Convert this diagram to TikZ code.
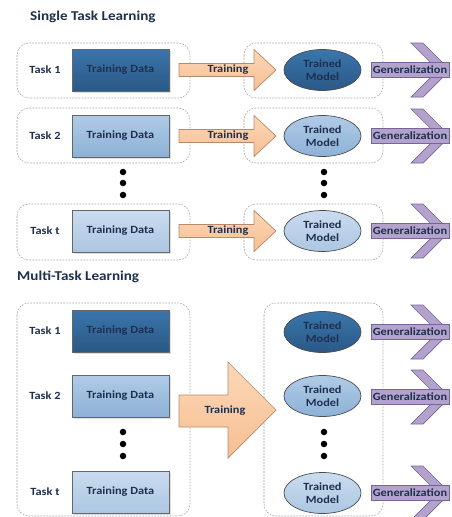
\documentclass[tikz,border=0pt]{standalone}
\usepackage{fontspec}
\setmainfont{Carlito}
\newfontfamily\wideFont[FakeStretch=1.12]{Carlito}
\usetikzlibrary{shadows,shapes.geometric}
\definecolor{navy}{HTML}{1F2F4F}
\definecolor{dkA}{HTML}{3A76AC}
\definecolor{dkB}{HTML}{2A5886}
\definecolor{mdA}{HTML}{B0CBE7}
\definecolor{mdB}{HTML}{8DB1D6}
\definecolor{ltA}{HTML}{CADCEF}
\definecolor{ltB}{HTML}{ACC6E2}
\definecolor{peachA}{HTML}{FCD8B8}
\definecolor{peachB}{HTML}{F6BE92}
\definecolor{peachD}{HTML}{B88A6A}
\definecolor{purp}{HTML}{B3A3CC}
\definecolor{purpD}{HTML}{76659A}
\definecolor{grp}{HTML}{A5A5A5}
\tikzset{
  txt/.style={font=\wideFont\bfseries\fontsize{11}{12.5}\selectfont, text=navy, align=center, inner sep=0pt},
  ttl/.style={font=\wideFont\bfseries\fontsize{13.5}{15}\selectfont, text=navy, anchor=west, inner sep=0pt},
  group/.style={draw=grp, dashed, dash pattern=on 1.8pt off 1.2pt, line width=0.55pt, rounded corners=12pt},
  databox/.style={txt, draw=gray!80!black, line width=0.7pt, minimum width=97pt, minimum height=42pt,
     drop shadow={shadow xshift=1.5pt, shadow yshift=-1.5pt, opacity=0.25}},
  dk/.style={top color=dkA, bottom color=dkB},
  md/.style={top color=mdA, bottom color=mdB},
  lt/.style={top color=ltA, bottom color=ltB},
  model/.style={txt, ellipse, draw=black!70, line width=0.7pt, minimum width=77pt, minimum height=41pt},
  trainarrow/.style={draw=peachD, line width=0.7pt, top color=peachA, bottom color=peachB},
  genhead/.style={draw=purpD, line width=0.7pt, fill=purp},
  genshaft/.style={txt, draw=purpD, line width=0.7pt, fill=purp, minimum width=78pt, minimum height=15pt},
  dot/.style={circle, fill=black, inner sep=0pt, minimum size=6.5pt},
}
\newcommand\trainrow[2]{% #1 name, #2 y
  \draw[trainarrow] (179,#2-6.5) -- (254,#2-6.5) -- (254,#2-20.5) -- (276,#2) -- (254,#2+20.5)
     -- (254,#2+6.5) -- (179,#2+6.5) -- cycle;
  \node[txt] (#1l) at (228,#2) {Training};
}
\newcommand\genrow[2]{% #1 name, #2 y
  \draw[genhead] (423,#2-27) -- (450,#2) -- (423,#2+27) -- (411,#2+27) -- (438,#2) -- (411,#2-27) -- cycle;
  \node[genshaft] (#1) at (410,#2) {Generalization};
}
\begin{document}
\begin{tikzpicture}[x=1pt,y=-1pt]
\useasboundingbox (0,0) rectangle (452,517);
\clip (0,0) rectangle (452,517);
% ---------- Single Task Learning ----------
\node[ttl] (t1) at (30,17) {Single Task Learning};
\draw[group] (17,43) rectangle (190,98);
\draw[group] (17,108) rectangle (190,163);
\draw[group] (17,204) rectangle (190,260);
\draw[group] (244,43) rectangle (383,98);
\draw[group] (244,108) rectangle (383,163);
\draw[group] (244,204) rectangle (383,260);
\node[txt] (sk1) at (45,70) {Task 1};
\node[txt] (sk2) at (45,136) {Task 2};
\node[txt] (skt) at (45,231) {Task t};
\node[databox, dk] (sd1) at (120.5,70) {Training Data};
\node[databox, md] (sd2) at (120.5,136) {Training Data};
\node[databox, lt] (sdt) at (120.5,231) {Training Data};
\node[model, dk] (sm1) at (322.5,70) {Trained\\Model};
\node[model, md] (sm2) at (322.5,136) {Trained\\Model};
\node[model, lt] (smt) at (322.5,231) {Trained\\Model};
\trainrow{sa1}{70}
\trainrow{sa2}{136}
\trainrow{sat}{231}
\genrow{sg1}{70}
\genrow{sg2}{136}
\genrow{sgt}{231}
\foreach \yy [count=\i] in {172,183,195} {
  \node[dot] (sdl\i) at (123,\yy) {};
  \node[dot] (sdr\i) at (324,\yy) {};
}
% ---------- Multi-Task Learning ----------
\node[ttl] (t2) at (17,277) {Multi-Task Learning};
\draw[group] (17,303) rectangle (190,516);
\draw[group] (264,303) rectangle (383,516);
\node[txt] (mk1) at (45,331) {Task 1};
\node[txt] (mk2) at (45,396) {Task 2};
\node[txt] (mkt) at (45,492) {Task t};
\node[databox, dk] (md1) at (120.5,331) {Training Data};
\node[databox, md] (md2) at (120.5,396) {Training Data};
\node[databox, lt] (mdt) at (120.5,492) {Training Data};
\node[model, dk] (mm1) at (322.5,332) {Trained\\Model};
\node[model, md] (mm2) at (322.5,396) {Trained\\Model};
\node[model, lt] (mmt) at (322.5,493) {Trained\\Model};
\draw[trainarrow] (179,395) -- (228,395) -- (228,362) -- (276,410) -- (228,458) -- (228,427) -- (179,427) -- cycle;
\node[txt] (mtl) at (225,411) {Training};
\genrow{mg1}{332}
\genrow{mg2}{397}
\genrow{mgt}{493}
\foreach \yy [count=\i] in {432,444,456} {
  \node[dot] (mdl\i) at (123,\yy) {};
  \node[dot] (mdr\i) at (324,\yy) {};
}
\end{tikzpicture}
\end{document}
